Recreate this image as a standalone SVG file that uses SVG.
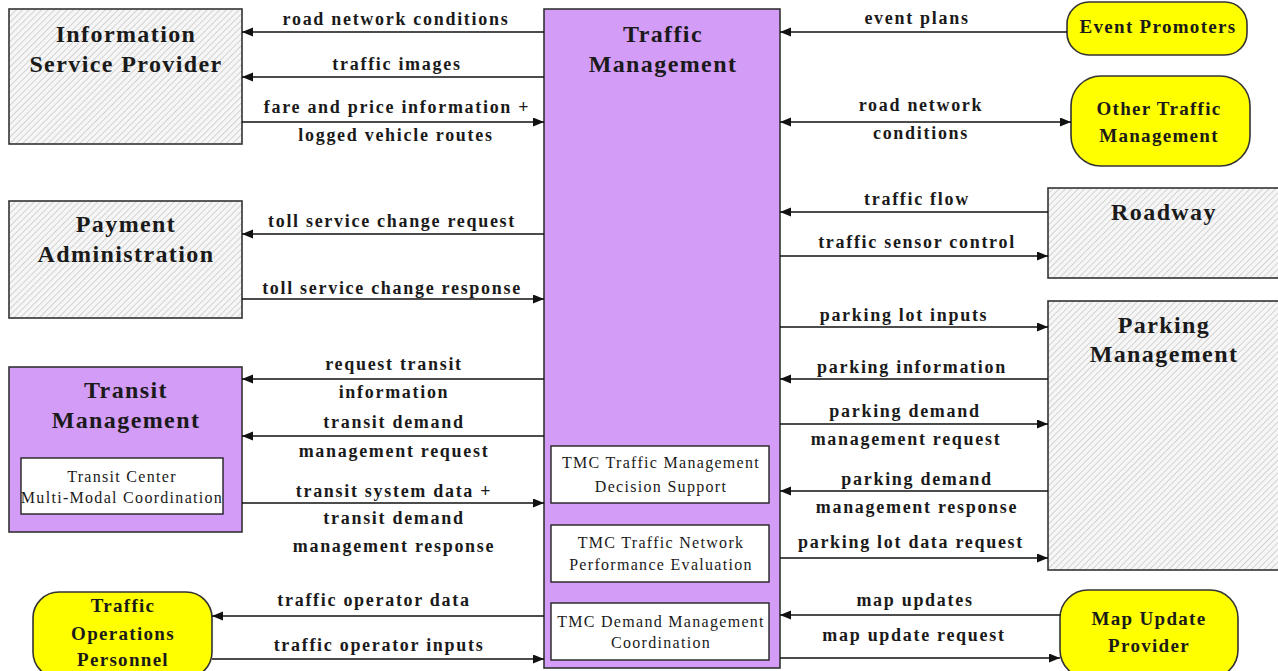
<svg xmlns="http://www.w3.org/2000/svg" width="1278" height="671" viewBox="0 0 1278 671">
<defs>
<pattern id="hatch" patternUnits="userSpaceOnUse" width="4.5" height="4.5" patternTransform="rotate(45)">
<rect width="4.5" height="4.5" fill="#f6f6f6"/>
<line x1="0" y1="0" x2="0" y2="4.5" stroke="#c2c2c2" stroke-width="1.3"/>
</pattern>
<marker id="arr" markerUnits="userSpaceOnUse" markerWidth="12" markerHeight="10" refX="11" refY="4.5" orient="auto-start-reverse">
<path d="M0,0 L11,4.5 L0,9 z" fill="#111"/>
</marker>
</defs>
<style>
.hat{fill:url(#hatch);stroke:#333;stroke-width:1.6}
.pur{fill:#d29cf7;stroke:#333;stroke-width:1.6}
.yel{fill:#ffff00;stroke:#333;stroke-width:1.6}
.sub{fill:#fff;stroke:#222;stroke-width:1.4}
.t{font-family:"Liberation Serif","Times New Roman",serif;font-weight:bold;text-anchor:middle;fill:#1a1a1a}
.title{font-size:24px;letter-spacing:1.4px}
.ytxt{font-size:19px;letter-spacing:1.3px}
.lbl{font-size:18px;letter-spacing:1.7px}
.st{font-family:"Liberation Serif","Times New Roman",serif;font-size:16px;letter-spacing:1.3px;text-anchor:middle;fill:#1a1a1a}
.c line{stroke:#111;stroke-width:1.6}
</style>

<g id="info-service-provider">
<rect class="hat" x="9" y="9" width="233" height="135"/>
<text class="t title" x="126" y="42">Information</text>
<text class="t title" x="126" y="72">Service Provider</text>
</g>

<g id="payment-administration">
<rect class="hat" x="9" y="201" width="233" height="117"/>
<text class="t title" x="126" y="232">Payment</text>
<text class="t title" x="126" y="262">Administration</text>
</g>

<g id="transit-management">
<rect class="pur" x="9" y="367" width="233" height="165"/>
<text class="t title" x="126" y="398">Transit</text>
<text class="t title" x="126" y="428">Management</text>
<rect class="sub" x="21" y="458" width="202" height="56"/>
<text class="st" x="122" y="482">Transit Center</text>
<text class="st" x="122" y="503">Multi-Modal Coordination</text>
</g>

<g id="traffic-operations-personnel">
<rect class="yel" x="33" y="592" width="179" height="86" rx="26"/>
<text class="t ytxt" x="123" y="612">Traffic</text>
<text class="t ytxt" x="123" y="640">Operations</text>
<text class="t ytxt" x="123" y="666">Personnel</text>
</g>

<g id="traffic-management">
<rect class="pur" x="544" y="9" width="236" height="659"/>
<text class="t title" x="663" y="42">Traffic</text>
<text class="t title" x="663" y="72">Management</text>
<rect class="sub" x="551" y="446" width="218" height="57"/>
<text class="st" x="661" y="468">TMC Traffic Management</text>
<text class="st" x="661" y="492">Decision Support</text>
<rect class="sub" x="551" y="525" width="218" height="57"/>
<text class="st" x="661" y="548">TMC Traffic Network</text>
<text class="st" x="661" y="570">Performance Evaluation</text>
<rect class="sub" x="551" y="603" width="218" height="57"/>
<text class="st" x="661" y="627">TMC Demand Management</text>
<text class="st" x="661" y="648">Coordination</text>
</g>

<g id="event-promoters">
<rect class="yel" x="1067" y="2" width="180" height="53" rx="22"/>
<text class="t ytxt" x="1158" y="33">Event Promoters</text>
</g>

<g id="other-traffic-management">
<rect class="yel" x="1071" y="76" width="179" height="90" rx="30"/>
<text class="t ytxt" x="1159" y="115">Other Traffic</text>
<text class="t ytxt" x="1159" y="142">Management</text>
</g>

<g id="roadway">
<rect class="hat" x="1048" y="188" width="235" height="90"/>
<text class="t title" x="1164" y="220">Roadway</text>
</g>

<g id="parking-management">
<rect class="hat" x="1048" y="301" width="235" height="269"/>
<text class="t title" x="1164" y="333">Parking</text>
<text class="t title" x="1164" y="362">Management</text>
</g>

<g id="map-update-provider">
<rect class="yel" x="1060" y="590" width="178" height="88" rx="28"/>
<text class="t ytxt" x="1149" y="625">Map Update</text>
<text class="t ytxt" x="1149" y="652">Provider</text>
</g>

<g id="connectors" class="c">
<line x1="544" y1="32" x2="242" y2="32" marker-end="url(#arr)"/>
<line x1="544" y1="77" x2="242" y2="77" marker-end="url(#arr)"/>
<line x1="242" y1="122" x2="544" y2="122" marker-end="url(#arr)"/>
<line x1="544" y1="234" x2="242" y2="234" marker-end="url(#arr)"/>
<line x1="242" y1="299" x2="544" y2="299" marker-end="url(#arr)"/>
<line x1="544" y1="379" x2="242" y2="379" marker-end="url(#arr)"/>
<line x1="544" y1="436" x2="242" y2="436" marker-end="url(#arr)"/>
<line x1="242" y1="503" x2="544" y2="503" marker-end="url(#arr)"/>
<line x1="544" y1="616" x2="212" y2="616" marker-end="url(#arr)"/>
<line x1="212" y1="659" x2="544" y2="659" marker-end="url(#arr)"/>

<line x1="1067" y1="32" x2="780" y2="32" marker-end="url(#arr)"/>
<line x1="780" y1="122" x2="1071" y2="122" marker-start="url(#arr)" marker-end="url(#arr)"/>
<line x1="1048" y1="212" x2="780" y2="212" marker-end="url(#arr)"/>
<line x1="780" y1="256" x2="1048" y2="256" marker-end="url(#arr)"/>
<line x1="780" y1="327" x2="1048" y2="327" marker-end="url(#arr)"/>
<line x1="1048" y1="379" x2="780" y2="379" marker-end="url(#arr)"/>
<line x1="780" y1="424" x2="1048" y2="424" marker-end="url(#arr)"/>
<line x1="1048" y1="491" x2="780" y2="491" marker-end="url(#arr)"/>
<line x1="780" y1="558" x2="1048" y2="558" marker-end="url(#arr)"/>
<line x1="1060" y1="615" x2="780" y2="615" marker-end="url(#arr)"/>
<line x1="780" y1="658" x2="1060" y2="658" marker-end="url(#arr)"/>

<text class="t lbl" x="396" y="25">road network conditions</text>
<text class="t lbl" x="397" y="70">traffic images</text>
<text class="t lbl" x="397" y="113">fare and price information +</text>
<text class="t lbl" x="396" y="141">logged vehicle routes</text>
<text class="t lbl" x="392" y="227">toll service change request</text>
<text class="t lbl" x="392" y="294">toll service change response</text>
<text class="t lbl" x="394" y="370">request transit</text>
<text class="t lbl" x="394" y="398">information</text>
<text class="t lbl" x="394" y="428">transit demand</text>
<text class="t lbl" x="394" y="457">management request</text>
<text class="t lbl" x="394" y="497">transit system data +</text>
<text class="t lbl" x="394" y="524">transit demand</text>
<text class="t lbl" x="394" y="552">management response</text>
<text class="t lbl" x="374" y="606">traffic operator data</text>
<text class="t lbl" x="379" y="651">traffic operator inputs</text>

<text class="t lbl" x="917" y="24">event plans</text>
<text class="t lbl" x="921" y="111">road network</text>
<text class="t lbl" x="921" y="139">conditions</text>
<text class="t lbl" x="917" y="205">traffic flow</text>
<text class="t lbl" x="917" y="248">traffic sensor control</text>
<text class="t lbl" x="904" y="321">parking lot inputs</text>
<text class="t lbl" x="912" y="373">parking information</text>
<text class="t lbl" x="905" y="417">parking demand</text>
<text class="t lbl" x="906" y="445">management request</text>
<text class="t lbl" x="917" y="485">parking demand</text>
<text class="t lbl" x="917" y="513">management response</text>
<text class="t lbl" x="911" y="548">parking lot data request</text>
<text class="t lbl" x="915" y="606">map updates</text>
<text class="t lbl" x="914" y="641">map update request</text>
</g>
</svg>
